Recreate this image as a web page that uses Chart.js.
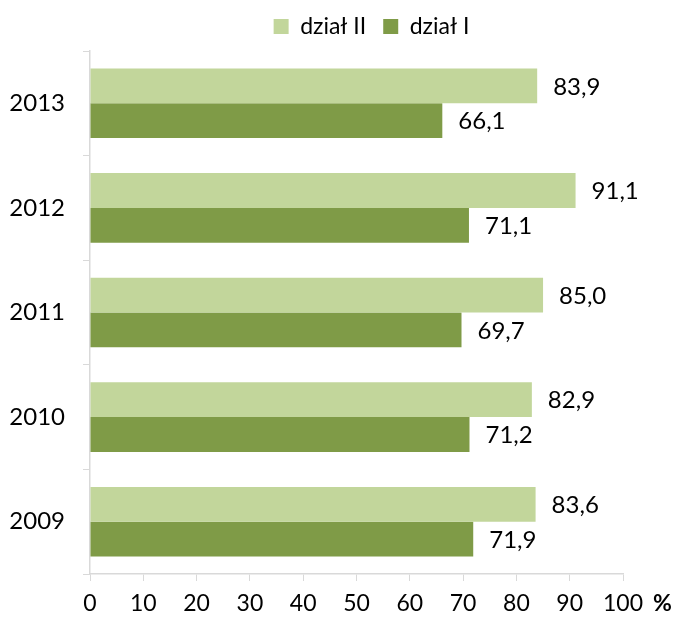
<!DOCTYPE html>
<html><head><meta charset="utf-8">
<script src="https://cdn.jsdelivr.net/npm/chart.js@4/dist/chart.umd.min.js"></script>
<style>html,body{margin:0;padding:0;background:#fff}#w{width:673px;height:618px}</style>
</head><body><div id="w"><canvas id="c"></canvas></div>
<script>
const categories = ['2013','2012','2011','2010','2009'];
const dzialII = [83.9, 91.1, 85.0, 82.9, 83.6];
const dzialI = [66.1, 71.1, 69.7, 71.2, 71.9];
const xTicks = [0,10,20,30,40,50,60,70,80,90,100];
const FONT = 'Lato, "Open Sans", sans-serif';

const labelPlugin = {
  id: 'vals',
  afterLayout(chart) {
    const lg = chart.legend;
    if (lg) { lg.left += 60; lg.right += 60; lg.top -= 3; lg.bottom -= 3; }
  },
  afterDatasetsDraw(chart) {
    const ctx = chart.ctx;
    ctx.save();
    ctx.font = '24px ' + FONT;
    ctx.fillStyle = '#000';
    ctx.textBaseline = 'middle';
    ctx.textAlign = 'left';
    chart.data.datasets.forEach((ds, i) => {
      chart.getDatasetMeta(i).data.forEach((bar, j) => {
        ctx.fillText(ds.data[j].toFixed(1).replace('.', ','), bar.x + 16, bar.y + 1);
      });
    });
    const xs = chart.scales.x;
    ctx.font = 'bold 23px ' + FONT;
    ctx.fillText('%', xs.getPixelForValue(100) + 30, xs.top + 30);
    ctx.restore();
  }
};

new Chart(document.getElementById('c'), {
  type: 'bar',
  data: {
    labels: categories,
    datasets: [
      {label: 'dział II', data: dzialII, backgroundColor: '#C2D69B', barPercentage: 1, categoryPercentage: 0.665},
      {label: 'dział I', data: dzialI, backgroundColor: '#7F9B47', barPercentage: 1, categoryPercentage: 0.665}
    ]
  },
  options: {
    indexAxis: 'y',
    responsive: true,
    maintainAspectRatio: false,
    animation: false,
    layout: {padding: {left: 0, right: 50, top: 1, bottom: 0}},
    plugins: {
      legend: {
        position: 'top',
        labels: {boxWidth: 15, boxHeight: 15, padding: 17, color: '#000', font: {family: FONT, size: 23}}
      },
      tooltip: {enabled: false}
    },
    scales: {
      x: {
        min: 0, max: 100,
        afterBuildTicks(s) { s.ticks = xTicks.map(v => ({value: v})); },
        grid: {drawOnChartArea: false, tickLength: 7, color: '#D9D9D9'},
        border: {color: '#D9D9D9', width: 1.5},
        ticks: {color: '#000', font: {family: FONT, size: 23}, padding: 9, maxRotation: 0},
        afterFit(s) { s.height = 44; }
      },
      y: {
        grid: {drawOnChartArea: false, tickLength: 7, color: '#D9D9D9', offset: true},
        border: {color: '#D9D9D9', width: 1.5},
        ticks: {color: '#000', font: {family: FONT, size: 24}, padding: 18},
        afterFit(s) { s.width = 90; }
      }
    }
  },
  plugins: [labelPlugin]
});
</script></body></html>
